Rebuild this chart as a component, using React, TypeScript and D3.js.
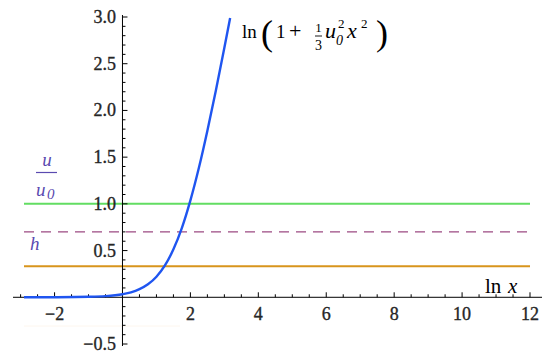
import React from 'react';
import * as d3 from 'd3';

// curve: ln x -> ln(1 + u0^2 x^2 / 3)
const curveT = [-2.9, -2, -1, -0.5, 0, 0.25, 0.5, 0.75, 1, 1.25, 1.5, 1.75, 2, 2.25, 2.5, 2.75, 3, 3.17];
const curveY = [0, 0.001, 0.005, 0.012, 0.033, 0.053, 0.087, 0.139, 0.22, 0.341, 0.513, 0.743, 1.037, 1.386, 1.783, 2.214, 2.671, 2.99];

const levelOne = 1.0;
const levelDashed = 0.7;
const levelH = 0.333;

const xMajor = [-2, 2, 4, 6, 8, 10, 12];
const xMinor = [-3, -2.5, -1.5, -1, -0.5, 0.5, 1, 1.5, 2.5, 3, 3.5, 4.5, 5, 5.5, 6.5, 7, 7.5, 8.5, 9, 9.5, 10.5, 11, 11.5];
const yMajor = [-0.5, 0.5, 1.0, 1.5, 2.0, 2.5, 3.0];

const W = 550,
  H = 356;

export default function App() {
  const x = d3.scaleLinear().domain([-2.9, 12]).range([24, 530]);
  const y = d3.scaleLinear().domain([-0.5, 3]).range([344, 17]);

  const pts: [number, number][] = curveT.map((t, i) => [t, curveY[i]]);
  const line = d3
    .line<[number, number]>()
    .x((d) => x(d[0]))
    .y((d) => y(d[1]))
    .curve(d3.curveMonotoneX);

  const yMinor = d3.range(-5, 31).map((d) => d / 10).filter((v) => Math.abs(v * 2 - Math.round(v * 2)) > 1e-6);

  const x0 = x(0),
    y0 = y(0);
  const font = 'Liberation Serif';
  const tickColor = '#262626';
  const fmt = (v: number) => (v < 0 ? '\u2212' : '') + Math.abs(v).toFixed(1);

  return (
    <svg width={W} height={H} style={{ position: 'absolute', left: 0, top: 0, background: '#fff' }}>
      {/* faint stray line */}
      <line x1={24} x2={180} y1={326} y2={326} stroke="#fdf6ee" strokeWidth={1} />

      {/* horizontal levels */}
      <line x1={x(-2.9)} x2={x(12)} y1={y(levelOne)} y2={y(levelOne)} stroke="#62dd62" strokeWidth={2} />
      <line
        x1={x(-2.9)}
        x2={x(12)}
        y1={y(levelDashed)}
        y2={y(levelDashed)}
        stroke="#9c4a82"
        strokeWidth={1.3}
        strokeDasharray="10,7"
      />
      <line x1={x(-2.9)} x2={x(12)} y1={y(levelH)} y2={y(levelH)} stroke="#d8951c" strokeWidth={2} />

      {/* axes */}
      <g stroke="#000" strokeWidth={1}>
        <line x1={13} x2={542} y1={y0} y2={y0} />
        <line x1={x0} x2={x0} y1={15} y2={346} />
        {xMajor.map((v) => (
          <line key={'xM' + v} x1={x(v)} x2={x(v)} y1={y0} y2={y0 - 5} />
        ))}
        {xMinor.map((v) => (
          <line key={'xm' + v} x1={x(v)} x2={x(v)} y1={y0} y2={y0 - 3} />
        ))}
        {yMajor.map((v) => (
          <line key={'yM' + v} x1={x0} x2={x0 + 5} y1={y(v)} y2={y(v)} />
        ))}
        {yMinor.map((v) => (
          <line key={'ym' + v} x1={x0} x2={x0 + 3} y1={y(v)} y2={y(v)} />
        ))}
      </g>

      {xMajor.map((v) => (
        <text
          key={'xl' + v}
          x={x(v)}
          y={320}
          textAnchor="middle"
          fontFamily={font}
          fontSize={18}
          fill={tickColor}
          stroke={tickColor}
          strokeWidth={0.35}
        >
          {v < 0 ? '\u2212' + Math.abs(v) : v}
        </text>
      ))}
      {yMajor.map((v) => (
        <text
          key={'yl' + v}
          x={116}
          y={y(v) + 6}
          textAnchor="end"
          fontFamily={font}
          fontSize={18}
          fill={tickColor}
          stroke={tickColor}
          strokeWidth={0.35}
        >
          {fmt(v)}
        </text>
      ))}

      {/* curve */}
      <path d={line(pts) || ''} fill="none" stroke="#1f55f0" strokeWidth={2.4} />

      {/* formula label */}
      <g fontFamily={font} fill="#000">
        <text x={242} y={38} fontSize={19}>ln</text>
        <text x={261} y={45} fontSize={36}>(</text>
        <text x={276} y={38} fontSize={19}>1</text>
        <text x={289} y={38} fontSize={22}>+</text>
        <text x={318.5} y={32} fontSize={13} textAnchor="middle">1</text>
        <line x1={315} x2={322} y1={36} y2={36} stroke="#000" strokeWidth={0.9} />
        <text x={318.5} y={50} fontSize={14} textAnchor="middle">3</text>
        <text x={325} y={38} fontSize={22} fontStyle="italic">u</text>
        <text x={336} y={45} fontSize={14} fontStyle="italic">0</text>
        <text x={338} y={28} fontSize={13}>2</text>
        <text x={347} y={38} fontSize={22} fontStyle="italic">x</text>
        <text x={361} y={28} fontSize={13}>2</text>
        <text x={376} y={45} fontSize={36}>)</text>
      </g>

      {/* axis label */}
      <g fontFamily={font} fill="#000">
        <text x={485} y={293} fontSize={21}>ln</text>
        <text x={508} y={293} fontSize={21} fontStyle="italic">x</text>
      </g>

      {/* left labels */}
      <g fontFamily={font} fill="#5a4ab0" fontStyle="italic">
        <text x={47} y={166} fontSize={19} textAnchor="middle">u</text>
        <line x1={36} x2={57} y1={172.5} y2={172.5} stroke="#5a4ab0" strokeWidth={1.2} />
        <text x={36} y={196} fontSize={19}>u</text>
        <text x={47} y={199} fontSize={15}>0</text>
        <text x={30} y={250} fontSize={19}>h</text>
      </g>
    </svg>
  );
}
